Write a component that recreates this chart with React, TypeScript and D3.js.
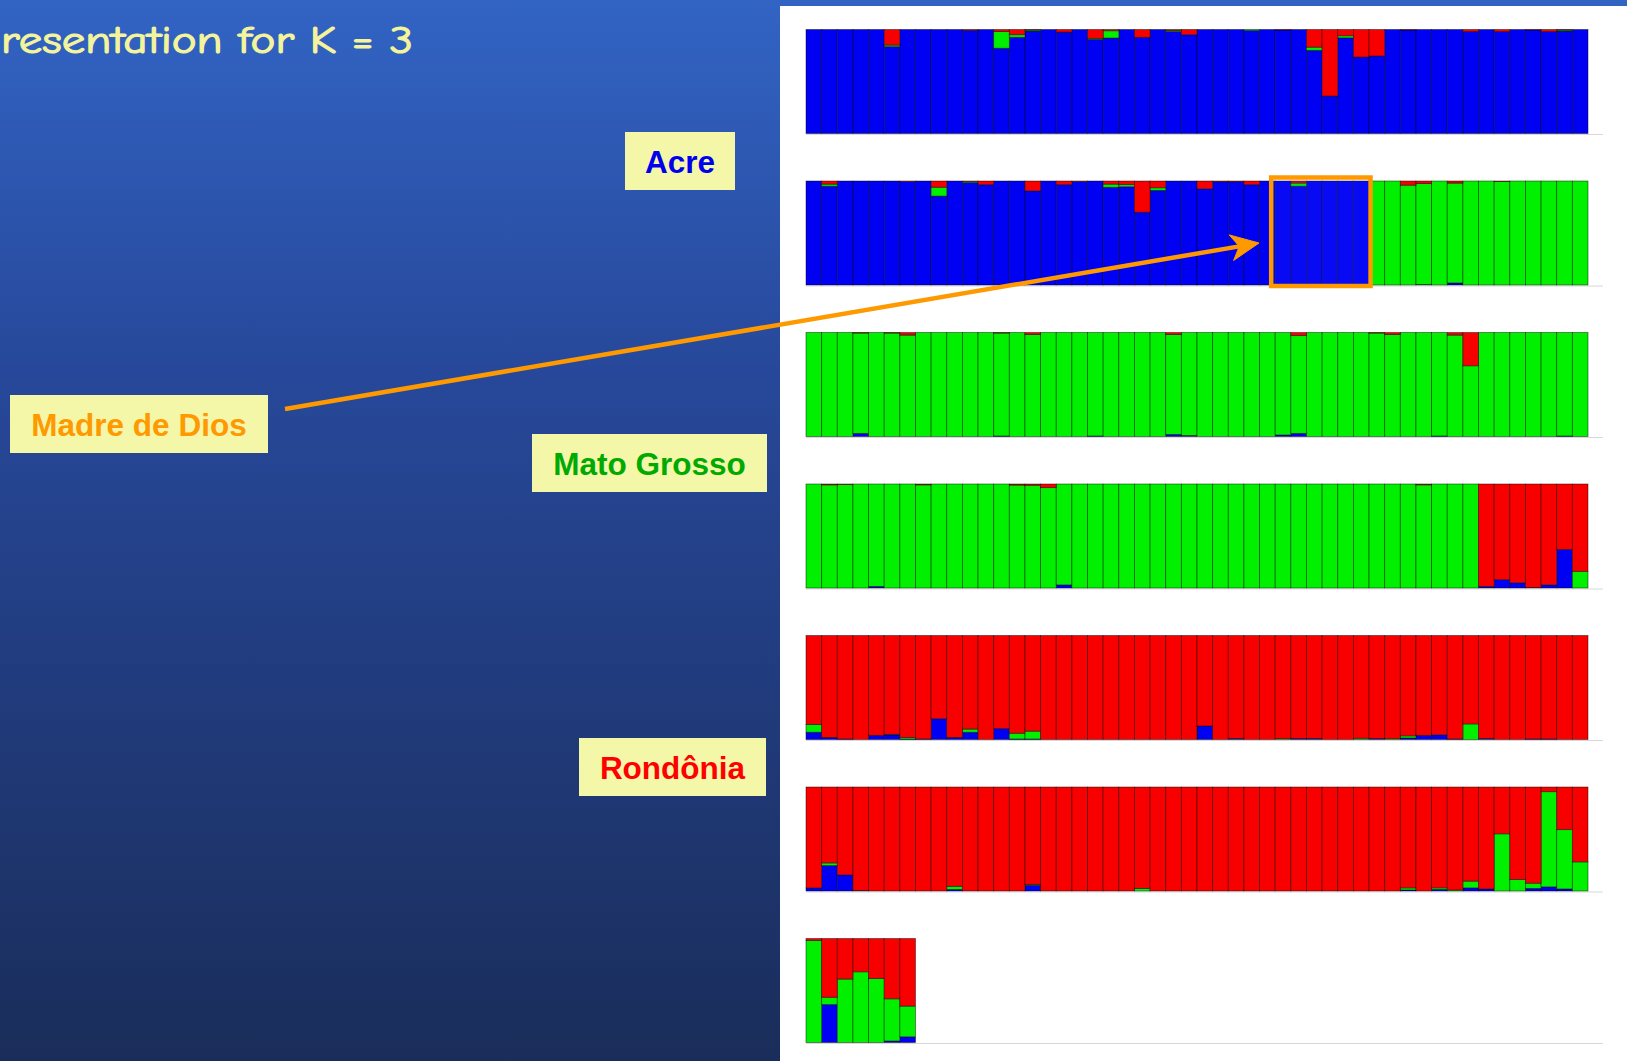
import React from "react";
import * as d3 from "d3";

// ---- Ancestry proportions (K = 3), one bar per individual ----
// Row 1 – Acre
const blue1 = [1,1,1,1,1,.835,1,1,1,1, .992,1,.82,.925,.985,1,.975,1,.905,.918, 1,.925,1,.98,.95,1,1,1,.99,1, .995,1,.8,.36,.92,.735,.745,1,.995,1, 1,1,.98,1,.98,1,.995,.98,.985,1];
const green1 = [0,0,0,0,0,.015,0,0,0,0, 0,0,.16,.025,.01,0,0,0,.01,.07, 0,0,0,.01,0,0,0,0,.01,0, 0,0,.03,0,.02,0,0,0,0,0, 0,0,0,0,0,0,0,0,.01,0];
const red1 = [0,0,0,0,0,.15,0,0,0,0, .008,0,.02,.05,.005,0,.025,0,.085,.012, 0,.075,0,.01,.05,0,0,0,0,0, .005,0,.17,.64,.06,.265,.255,0,.005,0, 0,0,.02,0,.02,0,.005,.02,.005,0];

// Row 2 – Acre / Madre de Dios / Mato Grosso
const blue2 = [1,.95,1,1,1,1,.995,1,.855,1, .985,.965,1,1,.905,1,.965,.995,1,.94, .945,.7,.91,1,1,.925,.993,.993,.965,1, 1,.95,1,1,1,1,0,0,0,.005, 0,.02,0,0,0,0,0,0,0,0];
const green2 = [0,.02,0,0,0,0,0,0,.085,0, .01,0,0,0,0,0,0,0,0,.03, .02,0,.025,0,0,0,0,0,0,0, 0,.03,0,0,0,0,1,1,.96,.97, 1,.96,1,1,.995,1,1,1,1,1];
const red2 = [0,.03,0,0,0,0,.005,0,.06,0, .005,.035,0,0,.095,0,.035,.005,0,.03, .035,.3,.065,0,0,.075,.007,.007,.035,0, 0,.02,0,0,0,0,0,0,.04,.025, 0,.02,0,0,.005,0,0,0,0,0];

// Row 3 – Mato Grosso
const blue3 = [0,0,0,.03,0,0,0,0,0,0, 0,0,.005,0,0,0,0,0,.005,0, 0,0,0,.02,.01,0,0,0,0,0, .015,.03,0,0,0,0,0,0,0,0, .005,0,0,0,0,0,0,0,.005,0];
const green3 = [1,1,1,.965,1,.995,.975,1,1,1, 1,1,.99,1,.98,1,1,1,.995,1, 1,1,1,.96,.99,1,1,1,1,1, .985,.94,1,1,1,1,.995,.98,1,1, .995,.975,.68,1,1,1,1,1,.995,1];
const red3 = [0,0,0,.005,0,.005,.025,0,0,0, 0,0,.005,0,.02,0,0,0,0,0, 0,0,0,.02,0,0,0,0,0,0, 0,.03,0,0,0,0,.005,.02,0,0, 0,.025,.32,0,0,0,0,0,0,0];

// Row 4 – Mato Grosso / Rondônia
const blue4 = [0,0,0,0,.015,0,0,0,0,0, 0,0,0,0,0,0,.03,0,0,0, 0,0,0,0,0,0,0,0,0,0, 0,0,0,0,0,0,0,0,0,0, 0,0,0,.015,.08,.05,.005,.03,.37,0];
const green4 = [1,.992,.995,1,.985,1,1,.992,1,1, 1,1,1,.99,.988,.965,.97,1,1,1, 1,1,1,1,1,1,1,1,1,1, 1,1,1,1,1,1,1,1,1,.992, 1,1,1,0,0,0,0,0,0,.16];
const red4 = [0,.008,.005,0,0,0,0,.008,0,0, 0,0,0,.01,.012,.035,0,0,0,0, 0,0,0,0,0,0,0,0,0,0, 0,0,0,0,0,0,0,0,0,.008, 0,0,0,.985,.92,.95,.995,.97,.63,.84];

// Row 5 – Rondônia
const blue5 = [.07,.02,.005,0,.04,.045,.005,.005,.2,.02, .07,0,.105,.005,.005,0,0,0,0,0, 0,0,0,0,0,.13,0,.01,0,0, 0,.01,.01,0,0,0,.01,0,.015,.04, .045,.005,0,.01,0,0,.005,.005,0,0];
const green5 = [.075,0,0,0,0,.005,.015,0,0,0, .03,0,0,.055,.075,0,0,0,0,0, 0,0,0,0,0,0,0,0,0,0, .008,0,0,0,0,.012,0,.008,.02,0, 0,0,.15,0,0,0,0,0,0,0];
const red5 = [.855,.98,.995,1,.96,.95,.98,.995,.8,.98, .9,1,.895,.94,.92,1,1,1,1,1, 1,1,1,1,1,.87,1,.99,1,1, .992,.99,.99,1,1,.988,.99,.992,.965,.96, .955,.995,.85,.99,1,1,.995,.995,1,1];

// Row 6 – Rondônia
const blue6 = [.03,.245,.155,.005,0,0,0,0,0,.015, 0,0,0,0,.055,0,0,0,0,0, 0,0,0,0,0,0,0,0,0,0, 0,0,0,0,0,0,0,0,.01,0, .015,0,.03,.02,0,0,.025,.04,.02,0];
const green6 = [0,.025,0,0,0,0,0,0,0,.03, 0,0,0,0,.008,0,0,0,0,0, 0,.025,0,0,0,0,0,0,0,0, 0,0,0,0,0,0,0,0,.02,0, .015,.01,.065,0,.55,.11,.05,.915,.57,.28];
const red6 = [.97,.73,.845,.995,1,1,1,1,1,.955, 1,1,1,1,.937,1,1,1,1,1, 1,.975,1,1,1,1,1,1,1,1, 1,1,1,1,1,1,1,1,.97,1, .97,.99,.905,.98,.45,.89,.925,.045,.41,.72];

// Row 7 – remaining individuals
const blue7 = [0,.365,0,0,0,.015,.055];
const green7 = [.98,.07,.61,.68,.615,.405,.295];
const red7 = [.02,.565,.39,.32,.385,.58,.65];

const rows = [
  { blue: blue1, green: green1, red: red1 },
  { blue: blue2, green: green2, red: red2 },
  { blue: blue3, green: green3, red: red3 },
  { blue: blue4, green: green4, red: red4 },
  { blue: blue5, green: green5, red: red5 },
  { blue: blue6, green: green6, red: red6 },
  { blue: blue7, green: green7, red: red7 },
];

const title = "resentation for K = 3";
const labels = [
  { text: "Acre", color: "#0000ee", x: 625, y: 132, w: 110, h: 58 },
  { text: "Madre de Dios", color: "#ff9900", x: 10, y: 395, w: 258, h: 58 },
  { text: "Mato Grosso", color: "#00aa00", x: 532, y: 434, w: 235, h: 58 },
  { text: "Rondônia", color: "#ff0000", x: 579, y: 738, w: 187, h: 58 },
];

const KEYS = ["blue", "green", "red"] as const;
const COLORS: Record<string, string> = { blue: "#0000f2", green: "#00f000", red: "#f80000" };

const W = 1627;
const H = 1061;
const N = 50;
const X0 = 806;
const X1 = 1588;
const ROW_TOP0 = 29.5;
const ROW_STEP = 151.5;
const ROW_H = 104;

export default function App() {
  const x = d3.scaleBand<number>().domain(d3.range(N)).range([X0, X1]).padding(0);
  const stack = d3.stack<any>().keys(KEYS as any).order(d3.stackOrderNone).offset(d3.stackOffsetNone);

  const rowEls = rows.map((row, ri) => {
    const top = ROW_TOP0 + ri * ROW_STEP;
    const y = d3.scaleLinear().domain([0, 1]).range([top + ROW_H, top]);
    const data = row.blue.map((b, i) => ({ i, blue: b, green: row.green[i], red: row.red[i] }));
    const series = stack(data);
    return (
      <g key={ri}>
        <line x1={X0} x2={1603} y1={top + ROW_H + 1} y2={top + ROW_H + 1} stroke="#d8d8d8" strokeWidth={1} />
        {series.map((s) => (
          <g key={s.key} fill={COLORS[s.key]}>
            {s.map((d, j) => {
              const h = y(d[0]) - y(d[1]);
              if (h <= 0) return null;
              return (
                <rect
                  key={j}
                  x={x(data[j].i)}
                  y={y(d[1])}
                  width={x.bandwidth()}
                  height={h}
                  stroke="#000"
                  strokeOpacity={0.55}
                  strokeWidth={0.8}
                />
              );
            })}
          </g>
        ))}
      </g>
    );
  });

  // Orange box around Madre de Dios individuals (bars 30–35 of row 2)
  const r2top = ROW_TOP0 + ROW_STEP;
  const boxX0 = (x(30) as number) - 4;
  const boxX1 = (x(36) as number) + 1.5;

  // Arrow from the "Madre de Dios" label to the box
  const sx = 285, sy = 409, tx = 1259, ty = 243;
  const ang = Math.atan2(ty - sy, tx - sx);
  const cos = Math.cos(ang), sin = Math.sin(ang);
  const pt = (u: number, v: number) => `${tx + u * cos - v * sin},${ty + u * sin + v * cos}`;
  const head = `M${pt(0, 0)} L${pt(-28, -13)} L${pt(-20, 0)} L${pt(-28, 13)} Z`;

  return (
    <svg width={W} height={H} style={{ position: "absolute", left: 0, top: 0 }} xmlns="http://www.w3.org/2000/svg">
      <defs>
        <linearGradient id="bg" x1="0" y1="0" x2="0" y2="1">
          <stop offset="0%" stopColor="#3264c4" />
          <stop offset="35%" stopColor="#27489a" />
          <stop offset="100%" stopColor="#1a2d5a" />
        </linearGradient>
      </defs>
      <rect x={0} y={0} width={W} height={H} fill="url(#bg)" />
      <rect x={780} y={6} width={W - 780} height={H - 6} fill="#ffffff" />

      <text
        x={1}
        y={53}
        fontFamily="'Comic Sans MS', 'Comic Neue', 'DejaVu Sans', sans-serif"
        fontSize={38}
        fill="#f4f49c"
        stroke="#f4f49c"
        strokeWidth={1.1}
        textLength={412}
        lengthAdjust="spacingAndGlyphs"
      >
        {title}
      </text>

      {rowEls}

      <rect
        x={boxX0 + 2}
        y={r2top}
        width={boxX1 - boxX0 - 4}
        height={ROW_H}
        fill="#4060ff"
        fillOpacity={0.1}
      />
      <rect
        x={boxX0}
        y={r2top - 3.5}
        width={boxX1 - boxX0}
        height={ROW_H + 4.5}
        fill="none"
        stroke="#ff9900"
        strokeWidth={4.5}
      />

      {labels.map((l) => (
        <g key={l.text}>
          <rect x={l.x} y={l.y} width={l.w} height={l.h} fill="#f4f6a8" />
          <text
            x={l.x + l.w / 2}
            y={l.y + l.h / 2 + 11.5}
            textAnchor="middle"
            fontFamily="'Liberation Sans', Arial, sans-serif"
            fontWeight="bold"
            fontSize={31.5}
            fill={l.color}
          >
            {l.text}
          </text>
        </g>
      ))}

      <line x1={sx} y1={sy} x2={tx - 20 * cos} y2={ty - 20 * sin} stroke="#ff9900" strokeWidth={4.5} />
      <path d={head} fill="#ff9900" stroke="#ff9900" strokeWidth={1} strokeLinejoin="miter" />
    </svg>
  );
}
